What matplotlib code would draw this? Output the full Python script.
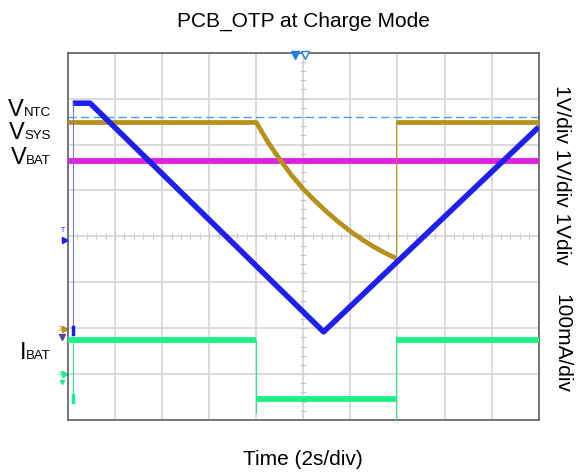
import numpy as np
import matplotlib
matplotlib.use("Agg")
import matplotlib.pyplot as plt

plt.rcParams['font.family'] = ['Liberation Sans', 'DejaVu Sans']

# scope traces, in divisions (x: 0..10 div of 2 s, y: 0..8 div)
ntc_x = [0.10, 0.47, 5.43, 10.0]
ntc_y = [6.90, 6.90, 1.92, 6.38]

sys_x = [0.0, 4.00, 4.25, 4.51, 4.75, 5.00, 5.25, 5.50, 5.75, 6.00, 6.25, 6.50, 6.75, 6.97]
sys_y = [6.48, 6.48, 6.05, 5.66, 5.33, 5.03, 4.77, 4.53, 4.31, 4.11, 3.93, 3.77, 3.63, 3.52]
sys_x2 = [6.97, 10.0]
sys_y2 = [6.48, 6.48]

bat_x = [0.0, 10.0]
bat_y = [5.65, 5.65]

ibat_x = [0.0, 4.00, 4.00, 6.97, 6.97, 10.0]
ibat_y = [1.74, 1.74, 0.46, 0.46, 1.74, 1.74]

ref_level = 6.60

left_main = ['V', 'V', 'V', 'I']
left_sub = ['NTC', 'SYS', 'BAT', 'BAT']
label_base_px = [116, 139, 164, 359]
right_labels = ['1V/div 1V/div 1Vdiv', '100mA/div']
right_center_px = [175, 343]

c_ntc = '#1f1fee'
c_sys = '#b8901c'
c_bat = '#e020e0'
c_ibat = '#1ef088'

W, H = 576, 473
fig = plt.figure(figsize=(W / 100, H / 100), dpi=100)
ax = fig.add_axes([68 / W, 1 - 420 / H, (538.7 - 68) / W, (420 - 52.7) / H])
ax.set_xlim(0, 10)
ax.set_ylim(0, 8)
ax.set_xticks(range(11))
ax.set_yticks(range(9))
ax.tick_params(length=0, labelbottom=False, labelleft=False)
ax.grid(True, color='#dadada', lw=1.4)
ax.set_axisbelow(True)
for s in ax.spines.values():
    s.set_color('#606060')
    s.set_linewidth(1.2)

# minor ticks on the centre lines
ax.plot(np.arange(0, 10.01, 0.2), [4] * 51, ls='none', marker='|', ms=4,
        color='#c8c8c8', mew=0.8, zorder=1)
ax.plot([5] * 41, np.arange(0, 8.01, 0.2), ls='none', marker='_', ms=4,
        color='#c8c8c8', mew=0.8, zorder=1)

# reference level
ax.axhline(ref_level, color='#4d9fff', lw=1.0, dashes=(6, 3), zorder=2)

# traces
ax.plot(bat_x, bat_y, color=c_bat, lw=4.2, solid_capstyle='butt', zorder=3)
ax.plot(sys_x, sys_y, color=c_sys, lw=3.4, solid_capstyle='butt', zorder=4)
ax.plot(sys_x2, sys_y2, color=c_sys, lw=3.4, solid_capstyle='butt', zorder=4)
ax.plot([6.97, 6.97], [sys_y[-1], sys_y2[0]], color=c_sys, lw=0.7, zorder=4)
ax.plot([0.10, 0.10], [5.88, 6.48], color=c_sys, lw=0.7, zorder=4)

ax.plot(ibat_x[:2], ibat_y[:2], color=c_ibat, lw=4.2, solid_capstyle='butt', zorder=3)
ax.plot(ibat_x[2:4], ibat_y[2:4], color=c_ibat, lw=4.2, solid_capstyle='butt', zorder=3)
ax.plot(ibat_x[4:], ibat_y[4:], color=c_ibat, lw=4.2, solid_capstyle='butt', zorder=3)
ax.plot([4.00, 4.00], [1.74, 0.15], color=c_ibat, lw=0.7, zorder=3)
ax.plot([6.97, 6.97], [0.0, 1.74], color=c_ibat, lw=0.7, zorder=3)
ax.plot([0.10, 0.10], [0.39, 1.74], color=c_ibat, lw=0.7, zorder=3)
ax.plot([0.10, 0.10], [0.40, 0.55], color=c_ibat, lw=2.5, zorder=3)

ax.plot(ntc_x, ntc_y, color=c_ntc, lw=4.0, solid_capstyle='butt', zorder=5)
ax.plot([0.10, 0.10], [1.92, 6.90], color='#7070ff', lw=0.7, zorder=5)
ax.plot([0.10, 0.10], [1.88, 2.02], color=c_ntc, lw=2.5, zorder=5)

# channel markers on the left edge and trigger marker on top
ax.plot([-0.06], [3.92], marker='>', color=c_ntc, ms=4, clip_on=False)
ax.text(-0.10, 4.05, 'T', color=c_ntc, fontsize=5, ha='center', va='bottom')
ax.plot([-0.06], [1.98], marker='>', color=c_sys, ms=4, clip_on=False)
ax.text(-0.16, 1.98, '3', color=c_sys, fontsize=6, ha='center', va='center')
ax.plot([-0.12], [1.80], marker='v', color='#5a4a8a', ms=4, clip_on=False)
ax.plot([-0.06], [1.00], marker='>', color=c_ibat, ms=4, clip_on=False)
ax.text(-0.16, 1.00, '4', color=c_ibat, fontsize=6, ha='center', va='center')
ax.plot([-0.12], [0.82], marker='v', color=c_ibat, ms=3, clip_on=False)

ax.plot([4.83], [7.95], marker='v', color='#1e7fe8', ms=6, clip_on=False, zorder=6)
ax.plot([5.03], [7.95], marker='v', color='#1e7fe8', mfc='white', ms=6,
        clip_on=False, zorder=6)

# text
fig.text(303 / W, 1 - 27 / H, 'PCB_OTP at Charge Mode', ha='center',
         va='baseline', fontsize=15)
fig.text(303 / W, 1 - 465 / H, 'Time (2s/div)', ha='center', va='baseline',
         fontsize=15)

renderer = fig.canvas.get_renderer()
for big, sub, yp in zip(left_main, left_sub, label_base_px):
    t = fig.text(51 / W, 1 - yp / H, sub, ha='right', va='baseline', fontsize=9.5)
    x0 = t.get_window_extent(renderer).x0
    fig.text(x0 / W, 1 - yp / H, big, ha='right', va='baseline', fontsize=17)

for lab, yp in zip(right_labels, right_center_px):
    fig.text(562 / W, 1 - yp / H, lab, ha='center', va='center',
             rotation=-90, fontsize=15)

fig.savefig('out.png', dpi=100)
